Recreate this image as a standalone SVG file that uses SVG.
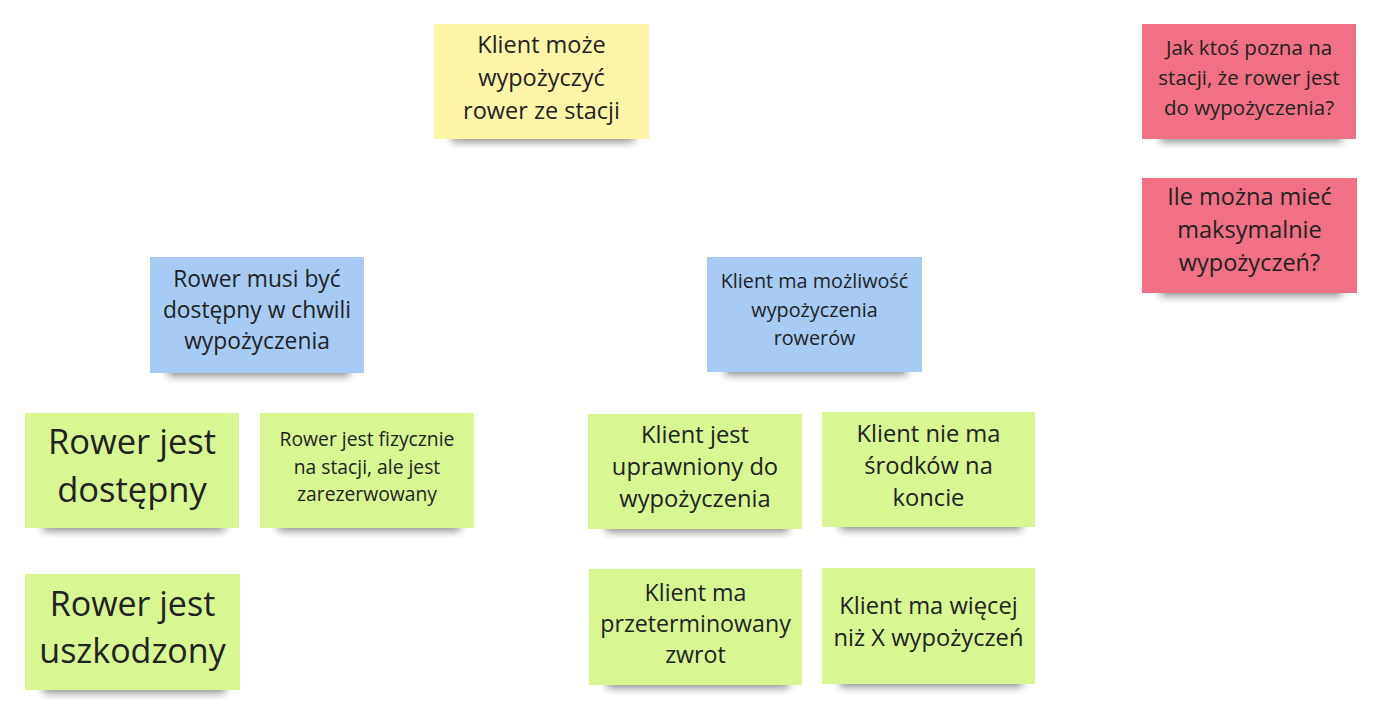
<svg xmlns="http://www.w3.org/2000/svg" width="1387" height="720" viewBox="0 0 1387 720">
<defs>
<filter id="sh" x="-20%" y="-50%" width="140%" height="200%"><feGaussianBlur stdDeviation="4"/></filter>
</defs>
<style>
.shadow{fill:#000;opacity:0.45;filter:url(#sh)}
.y{fill:#fdf5a8}
.p{fill:#f07085}
.b{fill:#a7cbf4}
.g{fill:#d8f692}
text{font-family:"Open Sans","Noto Sans",sans-serif;fill:#222;text-anchor:middle}
</style>
<rect width="1387" height="720" fill="#fff"/>
<g id="connectors"/>
<g id="n-klient-moze">
<rect class="shadow" x="452" y="128" width="182" height="14"/>
<rect class="y" x="434" y="24" width="215" height="115"/>
<text font-size="23.5"><tspan x="541.5" y="53">Klient może</tspan><tspan x="541.5" y="86">wypożyczyć</tspan><tspan x="541.5" y="119">rower ze stacji</tspan></text>
</g>
<g id="n-jak-ktos">
<rect class="shadow" x="1160" y="128" width="182" height="14"/>
<rect class="p" x="1142" y="24" width="214" height="115"/>
<text font-size="20.5"><tspan x="1249" y="55">Jak ktoś pozna na</tspan><tspan x="1249" y="85">stacji, że rower jest</tspan><tspan x="1249" y="115">do wypożyczenia?</tspan></text>
</g>
<g id="n-ile">
<rect class="shadow" x="1160" y="282" width="182" height="14"/>
<rect class="p" x="1142" y="178" width="215" height="115"/>
<text font-size="23.5"><tspan x="1249.5" y="205">Ile można mieć</tspan><tspan x="1249.5" y="238">maksymalnie</tspan><tspan x="1249.5" y="271">wypożyczeń?</tspan></text>
</g>
<g id="n-rower-musi">
<rect class="shadow" x="168" y="362" width="182" height="14"/>
<rect class="b" x="150" y="257" width="214" height="116"/>
<text font-size="22.8"><tspan x="257" y="287">Rower musi być</tspan><tspan x="257" y="318">dostępny w chwili</tspan><tspan x="257" y="349">wypożyczenia</tspan></text>
</g>
<g id="n-klient-ma-mozliwosc">
<rect class="shadow" x="725" y="361" width="182" height="14"/>
<rect class="b" x="707" y="257" width="215" height="115"/>
<text font-size="19.8"><tspan x="814.5" y="288">Klient ma możliwość</tspan><tspan x="814.5" y="317">wypożyczenia</tspan><tspan x="814.5" y="345">rowerów</tspan></text>
</g>
<g id="n-rower-dostepny">
<rect class="shadow" x="43" y="517" width="182" height="14"/>
<rect class="g" x="25" y="413" width="214" height="115"/>
<text font-size="34.5"><tspan x="132" y="454">Rower jest</tspan><tspan x="132" y="502">dostępny</tspan></text>
</g>
<g id="n-rower-fizycznie">
<rect class="shadow" x="278" y="517" width="182" height="14"/>
<rect class="g" x="260" y="413" width="214" height="115"/>
<text font-size="19.3"><tspan x="367" y="446">Rower jest fizycznie</tspan><tspan x="367" y="474">na stacji, ale jest</tspan><tspan x="367" y="501">zarezerwowany</tspan></text>
</g>
<g id="n-rower-uszkodzony">
<rect class="shadow" x="43" y="679" width="182" height="14"/>
<rect class="g" x="25" y="574" width="215" height="116"/>
<text font-size="34"><tspan x="132.5" y="616">Rower jest</tspan><tspan x="132.5" y="663">uszkodzony</tspan></text>
</g>
<g id="n-klient-uprawniony">
<rect class="shadow" x="606" y="518" width="182" height="14"/>
<rect class="g" x="588" y="414" width="214" height="115"/>
<text font-size="23.7"><tspan x="695" y="443">Klient jest</tspan><tspan x="695" y="475">uprawniony do</tspan><tspan x="695" y="507">wypożyczenia</tspan></text>
</g>
<g id="n-klient-nie-ma">
<rect class="shadow" x="840" y="516" width="182" height="14"/>
<rect class="g" x="822" y="412" width="213" height="115"/>
<text font-size="23.7"><tspan x="928.5" y="442">Klient nie ma</tspan><tspan x="928.5" y="474">środków na</tspan><tspan x="928.5" y="506">koncie</tspan></text>
</g>
<g id="n-klient-przeterminowany">
<rect class="shadow" x="607" y="674" width="182" height="14"/>
<rect class="g" x="589" y="569" width="213" height="116"/>
<text font-size="23.2"><tspan x="695.5" y="601">Klient ma</tspan><tspan x="695.5" y="632">przeterminowany</tspan><tspan x="695.5" y="663">zwrot</tspan></text>
</g>
<g id="n-klient-wiecej">
<rect class="shadow" x="840" y="673" width="182" height="14"/>
<rect class="g" x="822" y="568" width="213" height="116"/>
<text font-size="23.7"><tspan x="928.5" y="614">Klient ma więcej</tspan><tspan x="928.5" y="646">niż X wypożyczeń</tspan></text>
</g>
</svg>
